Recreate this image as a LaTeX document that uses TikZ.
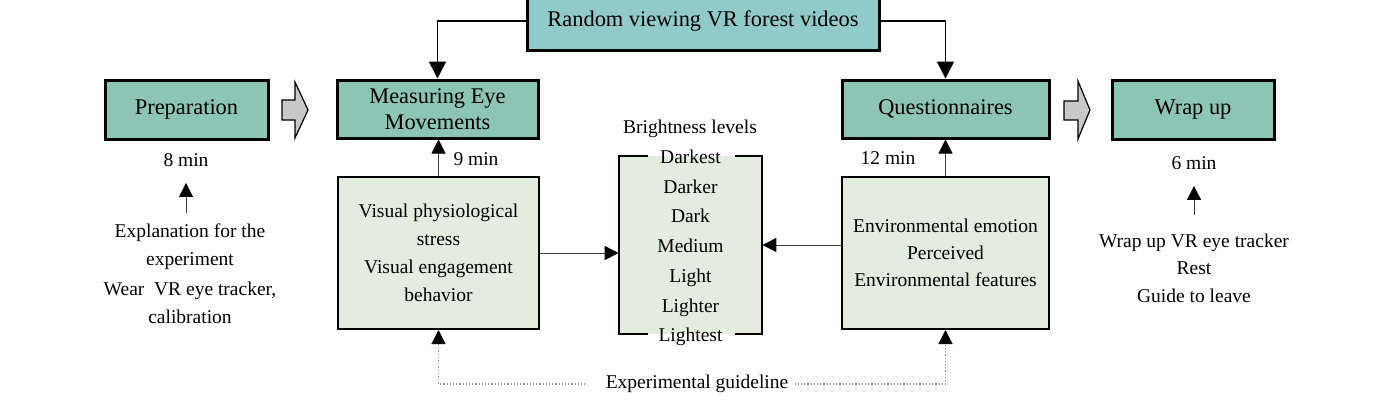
\documentclass[tikz,border=0pt]{standalone}
\usepackage{fontspec}
\setmainfont{Liberation Serif}
\usetikzlibrary{arrows.meta}
\definecolor{tealA}{HTML}{8DC5B5}
\definecolor{tealB}{HTML}{90CBC9}
\definecolor{pale}{HTML}{E2EDDF}
\definecolor{arrgray}{HTML}{C8C8C8}
\definecolor{linegray}{HTML}{3A3A3A}
\definecolor{dotgray}{HTML}{8A8A8A}
\begin{document}
\begin{tikzpicture}[x=0.5pt,y=-0.5pt,
  big/.style={font=\fontsize{11.2}{13.2}\selectfont},
  small/.style={font=\fontsize{9.75}{14}\selectfont},
  phase/.style={draw=black, line width=1.5pt, fill=tealA, big, align=center, inner sep=0pt},
  panel/.style={draw=black, line width=1pt, fill=pale, small, align=center, inner sep=0pt},
  txt/.style={small, align=center, inner sep=3pt},
  conn/.style={draw=linegray, line width=0.5pt, -{Triangle[length=7pt,width=7pt,color=black]}},
  bigconn/.style={draw=black, line width=0.8pt, -{Triangle[length=8.5pt,width=8.5pt,color=black]}},
  dotconn/.style={draw=dotgray, line width=0.6pt, densely dotted, -{Triangle[length=7pt,width=7pt,color=black]}},
  blockarrow/.style={draw=black, line width=0.6pt, fill=arrgray, line join=miter}
]
\clip (0,0) rectangle (1389,408);
\fill[white] (0,0) rectangle (1389,408);

% main phase boxes
\node[phase, fill=tealB, minimum width=176pt, minimum height=29pt] (rand) at (703,21) {Random viewing VR forest videos};
\node[phase, minimum width=81.5pt, minimum height=29.5pt] (prep) at (186.5,109.5) {Preparation};
\node[phase, minimum width=100.5pt, minimum height=29pt] (meas) at (437.5,109) {Measuring Eye\\Movements};
\node[phase, minimum width=103.5pt, minimum height=29pt] (quest) at (945.5,109) {Questionnaires};
\node[phase, minimum width=81pt, minimum height=29.5pt] (wrap) at (1193,109.5) {Wrap up};

% block arrows
\draw[blockarrow] (282,100) -- (295,100) -- (295,82) -- (308,110) -- (295,138) -- (295,120) -- (282,120) -- cycle;
\draw[blockarrow] (1064,101) -- (1078,101) -- (1078,81) -- (1090,110) -- (1078,139) -- (1078,120) -- (1064,120) -- cycle;

% panels
\node[panel, minimum width=100.5pt, minimum height=76pt] (vis) at (438.5,253) {Visual physiological\\stress\\Visual engagement\\behavior};
\node[panel, font=\fontsize{9.75}{13.5}\selectfont, minimum width=103.5pt, minimum height=76pt] (env) at (945.5,253) {Environmental emotion\\Perceived\\Environmental features};

% brightness box
\node[fill=pale, minimum width=71.5pt, minimum height=89pt, inner sep=0pt] (bright) at (690.5,245) {};
\draw[line width=1pt] ([xshift=14.5pt]bright.north west) -- (bright.north west) -- (bright.south west) -- ([xshift=14.5pt]bright.south west);
\draw[line width=1pt] ([xshift=-13.5pt]bright.north east) -- (bright.north east) -- (bright.south east) -- ([xshift=-13.5pt]bright.south east);
\node[txt, font=\fontsize{9.75}{14.85}\selectfont, inner sep=0pt] (levels) at (690.5,248) {Darkest\\Darker\\Dark\\Medium\\Light\\Lighter\\Lightest};
\node[txt] (brtitle) at (690,129) {Brightness levels};

% time labels
\node[txt] (prepmin) at (186,160) {8 min};
\node[txt] (measmin) at (476,159) {9 min};
\node[txt] (questmin) at (888,158) {12 min};
\node[txt] (wrapmin) at (1194,163) {6 min};

% notes
\node[txt, font=\fontsize{9.75}{14}\selectfont] (prepnote) at (190,274) {Explanation for the\\experiment\\[1pt]Wear\ \ VR eye tracker,\\calibration};
\node[txt, font=\fontsize{9.75}{13.75}\selectfont] (wrapnote) at (1194,268) {Wrap up VR eye tracker\\Rest\\Guide to leave};
\node[txt] (guide) at (697,384) {Experimental guideline};

% connectors
\draw[bigconn] (rand.west) -| (meas.north);
\draw[bigconn] (rand.east) -| (quest.north);
\draw[conn] (vis.north) -- (vis.north |- meas.south);
\draw[conn] (env.north) -- (env.north |- quest.south);
\draw[conn] (vis.east) -- (vis.east -| bright.west);
\draw[conn] (env.west |- bright.east) -- (bright.east);
\draw[conn, shorten <=2.5pt, shorten >=5pt] (prepmin.south |- prepnote.north) -- (prepmin.south);
\draw[conn, shorten <=6pt, shorten >=5pt] (wrapmin.south |- wrapnote.north) -- (wrapmin.south);
\draw[dotconn, shorten <=7pt] (guide.west) -| (vis.south);
\draw[dotconn] (guide.east) -| (env.south);
\end{tikzpicture}
\end{document}
